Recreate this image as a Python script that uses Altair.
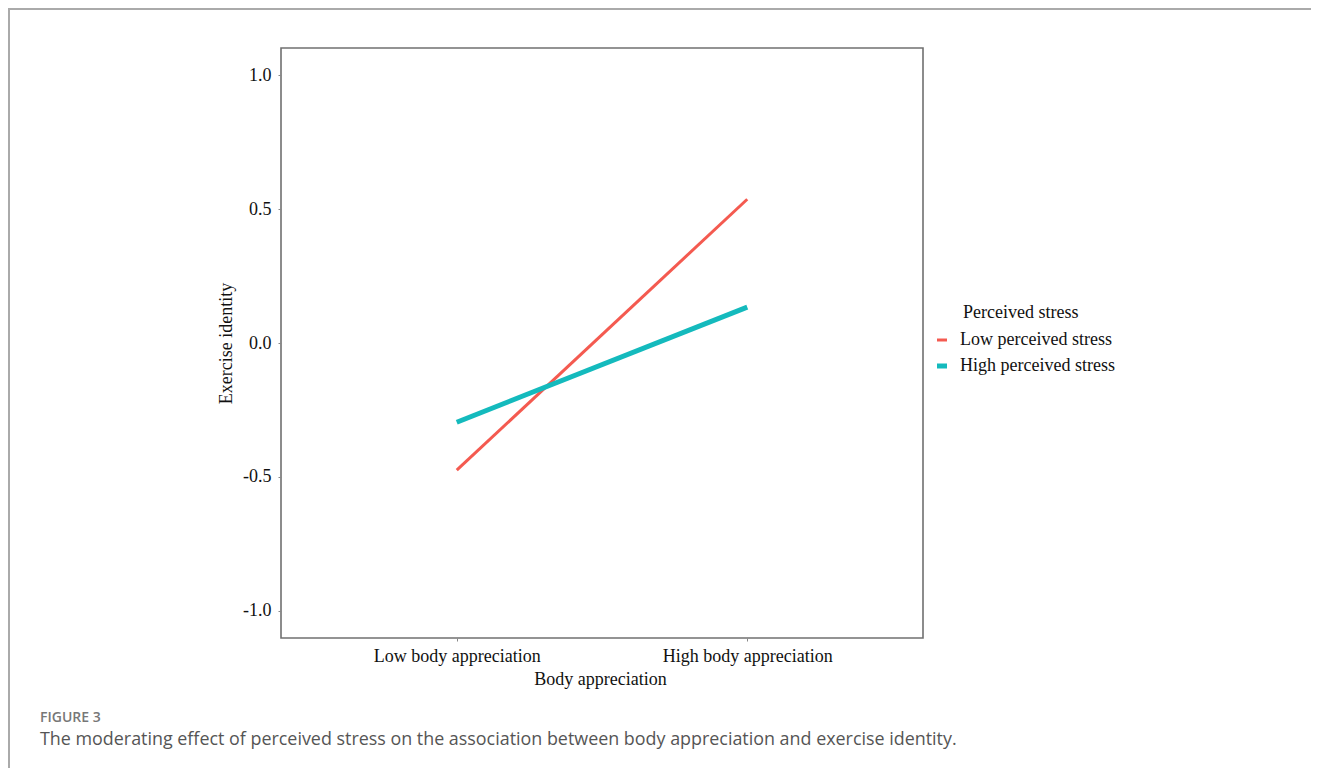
import altair as alt
import pandas as pd

# ---- data ----
x_levels = ["Low body appreciation", "High body appreciation"]
x_codes = [0, 1]
series_names = ["Low perceived stress", "High perceived stress"]
low_stress_values = [-0.475, 0.537]
high_stress_values = [-0.296, 0.134]
y_ticks = [-1.0, -0.5, 0.0, 0.5, 1.0]
series_colors = ["#F45A50", "#14BABD"]
legend_title = "Perceived stress"
caption_label = "FIGURE 3"
caption_text = ("The moderating effect of perceived stress on the association "
                "between body appreciation and exercise identity.")

rows = []
for code, v in zip(x_codes, low_stress_values):
    rows.append({"x": code, "y": v, "stress": series_names[0]})
for code, v in zip(x_codes, high_stress_values):
    rows.append({"x": code, "y": v, "stress": series_names[1]})
df = pd.DataFrame(rows)

SERIF = "Liberation Serif"
SANS = "Open Sans"
FS = 18

label_expr = "datum.value == 0 ? '%s' : (datum.value == 1 ? '%s' : '')" % (x_levels[0], x_levels[1])
y_label_expr = "replace(format(datum.value, '.1f'), '\u2212', '-')"

lines = alt.Chart(df).mark_line(strokeCap="butt").encode(
    x=alt.X("x:Q",
            scale=alt.Scale(domain=[-0.605, 1.605], nice=False, zero=False),
            axis=alt.Axis(values=x_codes, labelExpr=label_expr, title="Body appreciation",
                          grid=False, domain=False, tickSize=3, tickColor="#888",
                          labelFont=SERIF, labelFontSize=FS, labelColor="#111",
                          labelPadding=6, labelFlush=False, labelOverlap=False,
                          titleFont=SERIF, titleFontSize=FS, titleFontWeight="normal",
                          titleColor="#111", titlePadding=5, titleX=319)),
    y=alt.Y("y:Q",
            scale=alt.Scale(domain=[-1.102, 1.102], nice=False, zero=False),
            axis=alt.Axis(values=y_ticks, labelExpr=y_label_expr, title="Exercise identity",
                          grid=False, domain=False, tickSize=3, tickColor="#888",
                          labelFont=SERIF, labelFontSize=FS, labelColor="#111",
                          labelPadding=7,
                          titleFont=SERIF, titleFontSize=FS, titleFontWeight="normal",
                          titleColor="#111", titlePadding=7)),
    color=alt.Color("stress:N",
                    scale=alt.Scale(domain=series_names, range=series_colors),
                    legend=alt.Legend(title=None,
                                      orient="none", legendX=652, legendY=283,
                                      symbolType="stroke", symbolSize=100,
                                      symbolStrokeWidth=4,
                                      labelFont=SERIF, labelFontSize=FS, labelColor="#111",
                                      rowPadding=7, labelOffset=9)),
    strokeWidth=alt.StrokeWidth("stress:N",
                                scale=alt.Scale(domain=series_names, range=[3, 5]),
                                legend=None),
    order="x:Q",
)

one = pd.DataFrame({"a": [0]})

leg_title = alt.Chart(one).mark_text(align="left", baseline="middle", font=SERIF,
                                     fontSize=FS, color="#111").encode(
    x=alt.value(682), y=alt.value(265), text=alt.value(legend_title))

frame_top = alt.Chart(one).mark_rule(color="#aaaaaa", strokeWidth=2).encode(
    x=alt.value(-273), x2=alt.value(1030), y=alt.value(-39))
frame_left = alt.Chart(one).mark_rule(color="#aaaaaa", strokeWidth=2).encode(
    x=alt.value(-272), y=alt.value(-39), y2=alt.value(720))

cap1 = alt.Chart(one).mark_text(align="left", baseline="middle", font=SANS,
                                fontSize=14, fontWeight=600, color="#777777").encode(
    x=alt.value(-241), y=alt.value(670), text=alt.value(caption_label))
cap2 = alt.Chart(one).mark_text(align="left", baseline="middle", font=SANS,
                                fontSize=17.9, color="#555555").encode(
    x=alt.value(-241), y=alt.value(692), text=alt.value(caption_text))

chart = alt.layer(frame_top, frame_left, lines, leg_title, cap1, cap2).properties(
    width=642, height=590,
    autosize=alt.AutoSizeParams(type="none"),
    padding={"left": 273, "top": 40, "right": 388, "bottom": 130},
).configure_view(stroke="#707070", strokeWidth=1.6)

chart.save("out.html", embed_options={"renderer": "svg", "actions": False})
